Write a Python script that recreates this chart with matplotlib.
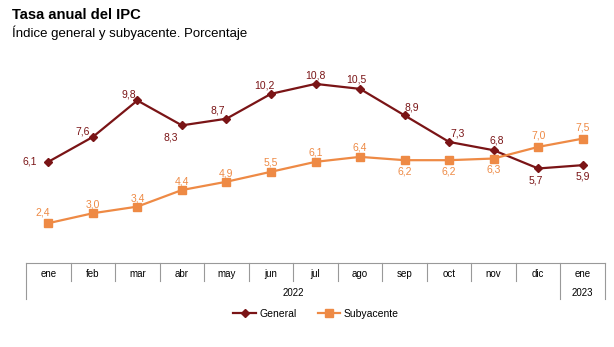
import matplotlib.pyplot as plt
import matplotlib.transforms as mtransforms

plt.rcParams['font.family'] = ['Liberation Sans', 'DejaVu Sans']

meses = ['ene', 'feb', 'mar', 'abr', 'may', 'jun', 'jul', 'ago', 'sep', 'oct', 'nov', 'dic', 'ene']
general = [6.1, 7.6, 9.8, 8.3, 8.7, 10.2, 10.8, 10.5, 8.9, 7.3, 6.8, 5.7, 5.9]
subyacente = [2.4, 3.0, 3.4, 4.4, 4.9, 5.5, 6.1, 6.4, 6.2, 6.2, 6.3, 7.0, 7.5]

# posiciones de las etiquetas (desplazamiento en puntos)
off_general = [(-13, 0), (-7, 4), (-6, 4), (-8, -9), (-6, 6), (-5, 6), (0, 6), (-3, 7),
               (5, 6), (6, 6), (2, 7), (-2, -9), (0, -8)]
off_sub = [(-4, 8), (0, 6), (0, 6), (0, 6), (0, 6), (0, 7), (0, 7), (0, 7),
           (0, -8), (0, -8), (0, -8), (0, 8), (0, 8)]

c_gen = '#7a1416'
c_sub = '#ee8a45'

fig = plt.figure(figsize=(6.14, 3.47), dpi=100)
ax = fig.add_axes([26 / 614, 1 - 263 / 347, (605 - 26) / 614, (263 - 64) / 347])

x = list(range(len(meses)))
ax.plot(x, general, color=c_gen, lw=1.6, marker='D', ms=4, label='General')
ax.plot(x, subyacente, color=c_sub, lw=1.6, marker='s', ms=6, label='Subyacente')

for i in x:
    ax.annotate(f'{general[i]:.1f}'.replace('.', ','), (i, general[i]),
                xytext=off_general[i], textcoords='offset points',
                ha='center', va='center', fontsize=7.5, color=c_gen)
    ax.annotate(f'{subyacente[i]:.1f}'.replace('.', ','), (i, subyacente[i]),
                xytext=off_sub[i], textcoords='offset points',
                ha='center', va='center', fontsize=7.5, color=c_sub)

ax.set_xlim(-0.5, len(meses) - 0.5)
ax.set_ylim(0, 12)
ax.set_xticks([])
ax.set_yticks([])
for s in ['top', 'right', 'left']:
    ax.spines[s].set_visible(False)
ax.spines['bottom'].set_color('#999999')

# caja de categorías
tr = mtransforms.blended_transform_factory(ax.transData, ax.transAxes)
for i in range(len(meses) + 1):
    bajo = -0.18 if i in (0, 12, 13) else -0.09
    ax.plot([i - 0.5, i - 0.5], [0, bajo], transform=tr, color='#999999', lw=0.8, clip_on=False)
for i, m in enumerate(meses):
    ax.text(i, -0.055, m, transform=tr, ha='center', va='center', fontsize=7)
ax.text(5.5, -0.15, '2022', transform=tr, ha='center', va='center', fontsize=7)
ax.text(12, -0.15, '2023', transform=tr, ha='center', va='center', fontsize=7)

fig.text(12 / 614, 1 - 15 / 347, 'Tasa anual del IPC', fontsize=10.6, fontweight='bold', va='center')
fig.text(12 / 614, 1 - 33 / 347, 'Índice general y subyacente. Porcentaje', fontsize=9.5, va='center')

fig.legend(loc='center', bbox_to_anchor=(316 / 614, 1 - 314 / 347), ncol=2, frameon=False,
           fontsize=7.5, handlelength=2.2, columnspacing=2.0, handletextpad=0.3)

fig.savefig('out.png', dpi=100)
